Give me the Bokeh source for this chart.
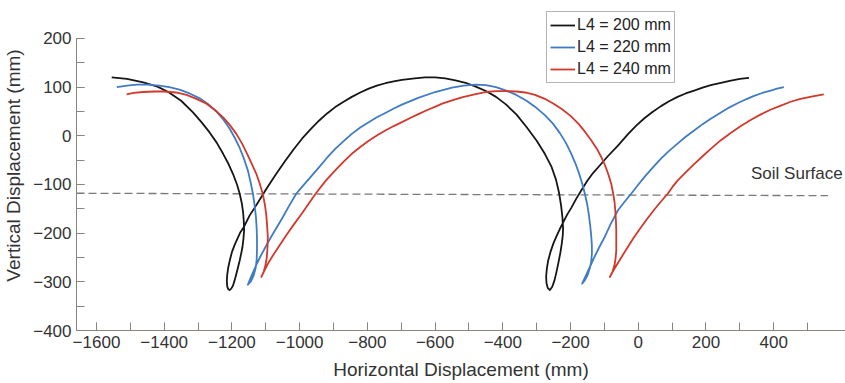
from bokeh.plotting import figure
from bokeh.models import (Range1d, SingleIntervalTicker, FixedTicker, Legend,
                          LegendItem, Label)
from bokeh.embed import file_html
from bokeh.resources import INLINE

# Blade-tip trajectories (mm) for three link lengths L4
black_x = [-1555, -1510, -1462, -1420, -1388, -1350, -1315, -1290, -1266, -1245,
           -1226, -1210, -1197, -1185, -1177, -1171, -1167, -1165, -1164,
           -1166, -1169, -1173, -1177, -1182, -1187, -1192, -1197, -1202, -1207,
           -1211, -1214, -1215, -1214, -1211, -1206, -1200, -1192, -1183, -1175,
           -1166, -1148, -1124, -1099, -1072, -1045, -1018, -993, -968, -943,
           -919, -895, -870, -846, -821, -796, -772, -747, -722, -698, -660,
           -630, -600, -570, -540, -510, -480, -450, -420, -390, -360, -330,
           -300, -276, -256, -243, -234, -228, -224, -222,
           -223, -226, -230, -235, -241, -247, -254, -261, -267, -271, -272,
           -270, -266, -259, -250, -240, -232, -224, -210, -197, -183, -168,
           -150, -133, -115, -90, -60, -31, -6, 18, 42, 67, 91, 116, 140, 165,
           190, 214, 244, 270, 300, 327]
black_y = [120, 117, 110, 101, 90, 72, 48, 28, 7, -14,
           -37, -58, -78, -100, -119, -138, -157, -175, -194,
           -212, -229, -243, -256, -270, -284, -297, -308, -314, -317,
           -315, -309, -298, -286, -271, -255, -239, -224, -210, -198,
           -189, -164, -138, -110, -81, -54, -28, -6, 13, 31,
           46, 59, 70, 80, 89, 97, 103, 108, 112, 115, 118,
           120, 120, 118, 114, 109, 101, 92, 80, 64, 44, 18,
           -10, -37, -64, -90, -117, -143, -167, -190,
           -205, -222, -240, -258, -278, -296, -310, -317, -313, -303, -289,
           -273, -256, -238, -220, -204, -192, -181, -162, -147, -129, -112,
           -92, -76, -62, -42, -20, 3, 21, 36, 49, 61, 71, 80, 87, 93,
           99, 104, 109, 113, 117, 119]

blue_x = [-1540, -1510, -1480, -1450, -1415, -1385, -1355, -1325, -1295, -1270,
          -1246, -1225, -1207, -1191, -1177, -1164, -1153, -1145, -1138, -1133,
          -1129, -1127, -1126, -1126, -1127, -1130, -1136, -1144, -1153,
          -1146, -1138, -1128, -1116, -1102, -1087, -1070, -1052, -1032, -1010,
          -993, -968, -943, -919, -895, -870, -846, -821, -796, -772, -747,
          -722, -698, -650, -600, -550, -515, -480, -450, -420, -390, -360,
          -330, -300, -275, -252, -232, -214, -199, -186, -175, -166, -158,
          -151, -146, -142, -139, -137, -137, -139, -143, -149, -157, -166,
          -160, -152, -142, -130, -116, -100, -82, -60, -41, -21, -2, 18, 42,
          67, 91, 116, 140, 165, 190, 214, 244, 268, 293, 318, 342, 366, 391,
          410, 430]
blue_y = [100, 103, 105, 105, 103, 100, 95, 87, 77, 65,
          50, 33, 15, -5, -25, -48, -71, -95, -119, -143,
          -167, -190, -210, -235, -255, -272, -287, -299, -306,
          -294, -281, -265, -248, -230, -211, -191, -170, -145, -119,
          -105, -85, -65, -45, -27, -11, 4, 17, 28, 38, 47,
          56, 64, 78, 90, 99, 103, 105, 104, 100, 93, 84,
          72, 57, 42, 25, 6, -14, -35, -56, -77, -97, -118,
          -140, -162, -184, -205, -225, -243, -258, -272, -285, -296, -304,
          -295, -283, -268, -250, -230, -209, -182, -153, -136, -119, -102, -85, -66,
          -47, -31, -16, -2, 11, 24, 35, 48, 58, 67, 75, 82, 88, 93,
          97, 100]

red_x = [-1511, -1490, -1462, -1430, -1400, -1365, -1334, -1305, -1275, -1250,
         -1226, -1206, -1187, -1170, -1155, -1141, -1128, -1118, -1109, -1103,
         -1099, -1096, -1094, -1095, -1097, -1101, -1106, -1113,
         -1104, -1093, -1078, -1060, -1040, -1018, -996, -975, -953, -924,
         -895, -870, -846, -821, -796, -771, -747, -722, -698, -672, -648,
         -623, -599, -579, -550, -521, -490, -452, -420, -393, -360,
         -334, -305, -276, -250, -226, -200, -177, -157, -138, -122, -109,
         -98, -89, -80, -74, -70, -68, -66, -65, -65, -65, -67, -70, -76, -84,
         -76, -66, -52, -35, -15, 6, 27, 47, 67, 87, 101, 116, 140, 165, 190,
         214, 244, 275, 303, 333, 362, 392, 421, 450, 479, 515, 548]
red_y = [85, 88, 90, 91, 91, 89, 84, 76, 66, 53,
         38, 22, 4, -16, -37, -58, -78, -98, -119, -140,
         -160, -185, -208, -230, -250, -266, -279, -290,
         -277, -262, -245, -226, -205, -183, -162, -141, -119, -93,
         -71, -53, -37, -23, -10, 1, 11, 20, 28, 37, 45,
         53, 60, 66, 73, 79, 84, 90, 92, 92, 91,
         89, 84, 76, 66, 55, 41, 25, 8, -10, -27, -44,
         -61, -78, -98, -119, -136, -153, -174, -194, -215, -236, -252, -265, -279, -290,
         -280, -268, -252, -233, -211, -190, -170, -152, -135, -119, -105, -92, -75, -58, -42,
         -27, -9, 7, 20, 33, 44, 54, 62, 70, 76, 81, 85]

series_labels = ["L4 = 200 mm", "L4 = 220 mm", "L4 = 240 mm"]
series_colors = ["#161616", "#3f7cc4", "#d2382b"]

# Soil surface reference line
soil_x = [-1659, 560]
soil_y = [-118, -123]
soil_text = "Soil Surface"
soil_text_pos = (333, -78)

x_major_ticks = [-1600, -1400, -1200, -1000, -800, -600, -400, -200, 0, 200, 400]
x_minor_ticks = list(range(-1600, 501, 100))
y_ticks_interval = 100

FONT = "Liberation Sans"
TEXT_COLOR = "#333333"
AXIS_COLOR = "#8a847f"

p = figure(width=845, height=383, output_backend="svg", toolbar_location=None,
           x_range=Range1d(-1659, 612), y_range=Range1d(-400, 278),
           min_border_left=73, min_border_right=0, min_border_top=0,
           min_border_bottom=53)
p.outline_line_color = None
p.grid.visible = False
p.background_fill_color = "white"
p.border_fill_color = "white"

p.line(soil_x, soil_y, line_color="#7a7a7a", line_width=1.3, line_dash="8 4")

renderers = []
for xs, ys, col in [(black_x, black_y, series_colors[0]),
                    (blue_x, blue_y, series_colors[1]),
                    (red_x, red_y, series_colors[2])]:
    r = p.line(xs, ys, line_color=col, line_width=1.8, line_join="round")
    renderers.append(r)

p.add_layout(Label(x=soil_text_pos[0], y=soil_text_pos[1], text=soil_text,
                   text_font=FONT, text_font_size="17px",
                   text_color=TEXT_COLOR, text_baseline="middle"))

legend = Legend(items=[LegendItem(label=lab, renderers=[r])
                       for lab, r in zip(series_labels, renderers)],
                location=(470, 247), orientation="vertical",
                border_line_color="#6a6a6a", border_line_width=1,
                background_fill_color="white", background_fill_alpha=1.0,
                label_text_font=FONT, label_text_font_size="16px",
                label_text_color="#222222", glyph_width=25, glyph_height=20,
                label_height=20, spacing=2, padding=3, margin=0,
                label_standoff=2)
p.add_layout(legend, "center")

for ax in (p.xaxis[0], p.yaxis[0]):
    ax.axis_line_color = AXIS_COLOR
    ax.major_tick_line_color = AXIS_COLOR
    ax.minor_tick_line_color = AXIS_COLOR
    ax.major_tick_in = 8
    ax.major_tick_out = 0
    ax.minor_tick_in = 8
    ax.minor_tick_out = 0
    ax.major_label_text_font = FONT
    ax.major_label_text_font_size = "17px"
    ax.major_label_text_color = TEXT_COLOR
    ax.axis_label_text_font = FONT
    ax.axis_label_text_font_size = "19px"
    ax.axis_label_text_font_style = "normal"
    ax.axis_label_text_color = TEXT_COLOR

p.xaxis[0].ticker = FixedTicker(ticks=x_major_ticks, minor_ticks=x_minor_ticks)
p.yaxis[0].ticker = SingleIntervalTicker(interval=y_ticks_interval, num_minor_ticks=2)
p.yaxis[0].bounds = (-400, 200)
p.xaxis[0].axis_label = "Horizontal Displacement (mm)"
p.yaxis[0].axis_label = "Vertical Displacement (mm)"
p.xaxis[0].major_label_standoff = 5
p.yaxis[0].major_label_standoff = 5
p.xaxis[0].axis_label_standoff = 8
p.yaxis[0].axis_label_standoff = 6

open("out.html", "w").write(file_html(p, INLINE))
